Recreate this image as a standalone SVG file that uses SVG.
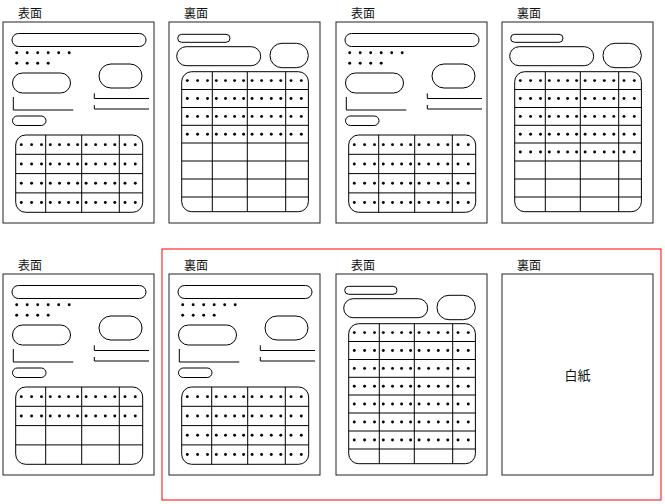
<svg xmlns="http://www.w3.org/2000/svg" width="665" height="504" viewBox="0 0 665 504">
<style>
.ln{fill:none;stroke:#000;stroke-width:1}
.pg{fill:#fff;stroke:#222;stroke-width:1}
.dt{fill:#000}
.lbl{font-family:"Noto Sans CJK JP","Noto Sans CJK SC",sans-serif;font-size:12px;fill:#111}
.frame{fill:none;stroke:#ff0000;stroke-width:1}
</style>
<defs>
<g id="dotrow">
<circle class="dt" cx="18.3" cy="0" r="1.45"/><circle class="dt" cx="28.6" cy="0" r="1.45"/><circle class="dt" cx="38.5" cy="0" r="1.45"/>
<circle class="dt" cx="47.3" cy="0" r="1.45"/><circle class="dt" cx="56.5" cy="0" r="1.45"/><circle class="dt" cx="65.6" cy="0" r="1.45"/><circle class="dt" cx="74.6" cy="0" r="1.45"/>
<circle class="dt" cx="83.1" cy="0" r="1.45"/><circle class="dt" cx="92.6" cy="0" r="1.45"/><circle class="dt" cx="102.3" cy="0" r="1.45"/><circle class="dt" cx="111.8" cy="0" r="1.45"/>
<circle class="dt" cx="122" cy="0" r="1.45"/><circle class="dt" cx="132.3" cy="0" r="1.45"/>
</g>
<g id="front">
<rect class="pg" x="0" y="0" width="151" height="201"/>
<rect class="ln" x="9" y="11.5" width="134" height="13" rx="6.5"/>
<circle class="dt" cx="13.7" cy="30.7" r="1.45"/><circle class="dt" cx="24.2" cy="30.7" r="1.45"/><circle class="dt" cx="34.7" cy="30.7" r="1.45"/>
<circle class="dt" cx="45.2" cy="30.7" r="1.45"/><circle class="dt" cx="55.7" cy="30.7" r="1.45"/><circle class="dt" cx="66.2" cy="30.7" r="1.45"/>
<circle class="dt" cx="13.7" cy="41.3" r="1.45"/><circle class="dt" cx="24.2" cy="41.3" r="1.45"/><circle class="dt" cx="34.7" cy="41.3" r="1.45"/><circle class="dt" cx="45.2" cy="41.3" r="1.45"/>
<rect class="ln" x="9.5" y="51" width="58" height="20" rx="10"/>
<rect class="ln" x="96" y="42" width="43" height="24" rx="12"/>
<path class="ln" d="M10.3 75V88H70.3"/>
<path class="ln" d="M91.3 71.3V76.5H146M91.3 83V87H146"/>
<rect class="ln" x="9.5" y="94" width="33.5" height="9.5" rx="4.75"/>
<rect class="ln" x="12.7" y="113" width="127" height="77.3" rx="10"/>
<path class="ln" d="M42.7 113V190.3M78.7 113V190.3M116.3 113V190.3M12.7 132.3H139.7M12.7 151.6H139.7M12.7 170.9H139.7"/>
</g>
<g id="back">
<rect class="pg" x="0" y="0" width="151" height="201"/>
<rect class="ln" x="8.7" y="12.3" width="52.3" height="8" rx="4"/>
<rect class="ln" x="7.7" y="24.7" width="84" height="19" rx="9.5"/>
<rect class="ln" x="101" y="21.3" width="38.3" height="24.4" rx="12"/>
<rect class="ln" x="12.7" y="49.7" width="126.7" height="140" rx="10"/>
<path class="ln" d="M43.3 49.7V189.7M78.3 49.7V189.7M116.7 49.7V189.7M12.7 67.5H139.4M12.7 85.5H139.4M12.7 103.3H139.4M12.7 121H139.4M12.7 139H139.4M12.7 157H139.4M12.7 175H139.4"/>
</g>
</defs>

<g id="group-frame"><rect class="frame" x="162" y="249" width="499" height="251"/></g>

<g id="page1" transform="translate(3,22)">
<text class="lbl" x="15" y="-4">表面</text>
<use href="#front"/>
<use href="#dotrow" y="122.65"/><use href="#dotrow" y="141.95"/><use href="#dotrow" y="161.25"/><use href="#dotrow" y="180.55"/>
</g>
<g id="page2" transform="translate(169,22)">
<text class="lbl" x="15" y="-4">裏面</text>
<use href="#back"/>
<use href="#dotrow" y="58.6"/><use href="#dotrow" y="76.5"/><use href="#dotrow" y="94.4"/><use href="#dotrow" y="112.2"/>
</g>
<g id="page3" transform="translate(336,22)">
<text class="lbl" x="15" y="-4">表面</text>
<use href="#front"/>
<use href="#dotrow" y="122.65"/><use href="#dotrow" y="141.95"/><use href="#dotrow" y="161.25"/><use href="#dotrow" y="180.55"/>
</g>
<g id="page4" transform="translate(502,22)">
<text class="lbl" x="15" y="-4">裏面</text>
<use href="#back"/>
<use href="#dotrow" y="58.6"/><use href="#dotrow" y="76.5"/><use href="#dotrow" y="94.4"/><use href="#dotrow" y="112.2"/><use href="#dotrow" y="130"/>
</g>
<g id="page5" transform="translate(3,274)">
<text class="lbl" x="15" y="-4">表面</text>
<use href="#front"/>
<use href="#dotrow" y="122.65"/><use href="#dotrow" y="141.95"/>
</g>
<g id="page6" transform="translate(169,274)">
<text class="lbl" x="15" y="-4">裏面</text>
<use href="#front"/>
<use href="#dotrow" y="122.65"/><use href="#dotrow" y="141.95"/><use href="#dotrow" y="161.25"/><use href="#dotrow" y="180.55"/>
</g>
<g id="page7" transform="translate(336,274)">
<text class="lbl" x="15" y="-4">表面</text>
<use href="#back"/>
<use href="#dotrow" y="58.6"/><use href="#dotrow" y="76.5"/><use href="#dotrow" y="94.4"/><use href="#dotrow" y="112.2"/><use href="#dotrow" y="130"/><use href="#dotrow" y="148"/><use href="#dotrow" y="166"/>
</g>
<g id="page8" transform="translate(502,274)">
<text class="lbl" x="15" y="-4">裏面</text>
<rect class="pg" x="0" y="0" width="151" height="201"/>
<text class="lbl" x="75.5" y="105.5" text-anchor="middle" style="font-size:13px">白紙</text>
</g>
<g id="connectors"/>
</svg>
